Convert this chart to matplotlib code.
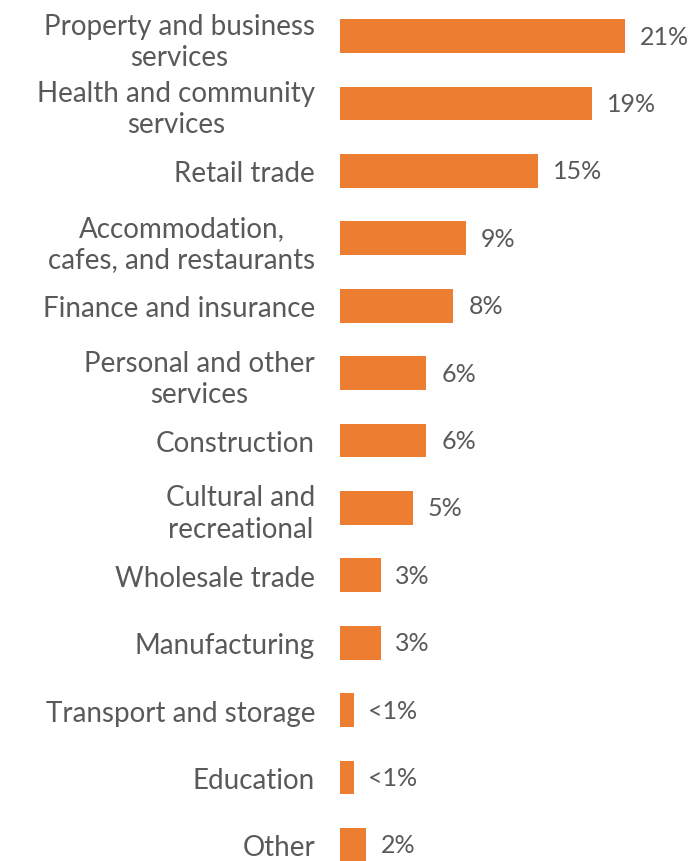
import matplotlib.pyplot as plt

categories = ["Property and business\nservices", "Health and community\nservices", "Retail trade",
              "Accommodation,\ncafes, and restaurants", "Finance and insurance",
              "Personal and other\nservices", "Construction", "Cultural and\nrecreational",
              "Wholesale trade", "Manufacturing", "Transport and storage", "Education", "Other"]
values = [21.1, 18.7, 14.7, 9.3, 8.4, 6.4, 6.4, 5.4, 3.0, 3.0, 1.0, 1.0, 1.9]
value_labels = ["21%", "19%", "15%", "9%", "8%", "6%", "6%", "5%", "3%", "3%", "<1%", "<1%", "2%"]

plt.rcParams['font.family'] = ['Lato', 'DejaVu Sans']
gray = '#595959'

fig = plt.figure(figsize=(6.95, 8.62), dpi=100)
ax = fig.add_axes([340/695, -17.7/862, 350/695, 876.4/862])

y = list(range(len(categories)))
ax.barh(y, values, height=0.5, color='#ED7D31')
for yi, v, lab in zip(y, values, value_labels):
    ax.text(v + 1.1, yi, lab, va='center', ha='left', fontsize=18, color=gray)

ax.set_ylim(len(categories) - 0.5, -0.5)
ax.set_xlim(0, 350/13.5)
ax.set_yticks(y)
ax.set_yticklabels(categories, fontsize=20, color=gray, linespacing=1.25)
ax.tick_params(axis='y', length=0, pad=18)
ax.set_xticks([])
for s in ax.spines.values():
    s.set_visible(False)

# multi-line labels are centred on each other
for t in ax.get_yticklabels():
    t.set_multialignment('center')

plt.savefig('out.png', dpi=100)
